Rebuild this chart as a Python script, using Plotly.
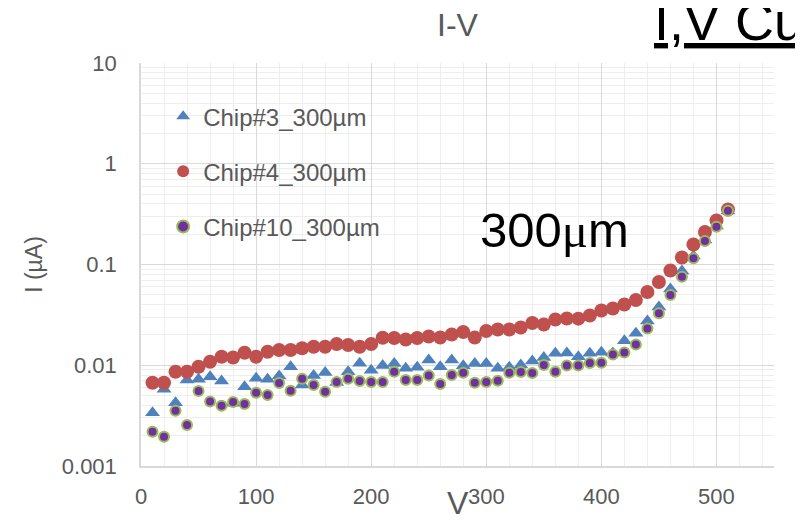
import plotly.graph_objects as go

voltage = [10, 20, 30, 40, 50, 60, 70, 80, 90, 100, 110, 120, 130, 140, 150, 160, 170, 180, 190, 200,
           210, 220, 230, 240, 250, 260, 270, 280, 290, 300, 310, 320, 330, 340, 350, 360, 370, 380, 390, 400,
           410, 420, 430, 440, 450, 460, 470, 480, 490, 500, 510]

chip3 = [0.00338, 0.00577, 0.00425, 0.00714, 0.00725, 0.0077, 0.00698, 0.00419, 0.00612, 0.00742,
         0.00725, 0.00782, 0.00967, 0.00637, 0.00791, 0.00847, 0.00674, 0.00863, 0.01046, 0.00891,
         0.00994, 0.01038, 0.00933, 0.00954, 0.01127, 0.00967, 0.01127, 0.00987, 0.01038, 0.01038,
         0.00933, 0.00954, 0.01006, 0.01102, 0.01194, 0.01314, 0.01323, 0.01216, 0.01314, 0.01348,
         0.01323, 0.01752, 0.02076, 0.0275, 0.0379, 0.0571, 0.0862, 0.1214, 0.175, 0.241, 0.340]

chip4 = [0.00671, 0.00671, 0.00863, 0.00863, 0.00967, 0.01084, 0.01216, 0.01194, 0.01329, 0.01216,
         0.01363, 0.01417, 0.01417, 0.01473, 0.01528, 0.01528, 0.01625, 0.0159, 0.01528, 0.01625,
         0.01873, 0.01865, 0.01801, 0.01865, 0.01929, 0.01886, 0.0202, 0.02138, 0.01886, 0.02188,
         0.02264, 0.02264, 0.0237, 0.02627, 0.02538, 0.02845, 0.02911, 0.0290, 0.03117, 0.03494,
         0.03659, 0.0401, 0.0444, 0.0533, 0.0670, 0.0872, 0.1173, 0.1579, 0.2102, 0.2733, 0.3515]

chip10 = [0.00219, 0.00195, 0.00354, 0.00255, 0.00555, 0.00437, 0.00396, 0.00432, 0.00412, 0.00534,
          0.00507, 0.00667, 0.00559, 0.00735, 0.00637, 0.00546, 0.00682, 0.00734, 0.00698, 0.00682,
          0.00682, 0.00863, 0.00714, 0.00714, 0.00791, 0.00652, 0.0080, 0.00844, 0.00671, 0.00682,
          0.00703, 0.00844, 0.00857, 0.00838, 0.01006, 0.00863, 0.00994, 0.00994, 0.01053, 0.0106,
          0.01278, 0.01339, 0.01607, 0.02317, 0.0328, 0.0498, 0.0757, 0.1152, 0.171, 0.237, 0.342]

series_names = ["Chip#3_300\u00b5m", "Chip#4_300\u00b5m", "Chip#10_300\u00b5m"]
x_tick_vals = [0, 100, 200, 300, 400, 500]
y_tick_vals = [0.001, 0.01, 0.1, 1, 10]
y_tick_text = ["0.001", "0.01", "0.1", "1", "10"]

GRAY = "#595959"
FONT = "Liberation Sans, Arial, sans-serif"

fig = go.Figure()
fig.add_trace(go.Scatter(
    x=voltage, y=chip3, mode="markers", name=series_names[0], legendgroup="a",
    marker=dict(symbol="triangle-up", size=13, color="#4f81bd", line=dict(width=0)),
))
fig.add_trace(go.Scatter(
    x=voltage, y=chip4, mode="markers", name=series_names[1], legendgroup="b",
    marker=dict(symbol="circle", size=14, color="#c0504d", line=dict(width=0)),
))
fig.add_trace(go.Scatter(
    x=voltage, y=chip10, mode="markers", name=series_names[2], legendgroup="c",
    marker=dict(symbol="circle", size=10, color="#7030a0", line=dict(width=2, color="#9bbb59")),
))

fig.update_layout(
    width=803, height=522,
    margin=dict(l=133, r=37, t=55, b=64),
    paper_bgcolor="white", plot_bgcolor="white",
    font=dict(family=FONT, color=GRAY),
    title=dict(text="I-V", x=0.5, xref="paper", xanchor="center", y=0.967, yref="container",
               yanchor="middle", font=dict(size=32, color=GRAY, family=FONT)),
    showlegend=True,
    legend=dict(x=0.035, y=0.923, xanchor="left", yanchor="top", bgcolor="rgba(0,0,0,0)",
                font=dict(size=24, color=GRAY, family=FONT), tracegroupgap=21,
                itemsizing="constant"),
    xaxis=dict(
        range=[0, 550], tickvals=x_tick_vals, showgrid=True, gridcolor="#d9d9d9", gridwidth=1.3,
        minor=dict(dtick=20, showgrid=True, gridcolor="#eeeeee", gridwidth=1, tick0=0),
        showline=True, linecolor="#d9d9d9", linewidth=1.5, zeroline=False, ticks="",
        tickfont=dict(size=22, color=GRAY, family=FONT), ticklabelstandoff=10,
        automargin=False,
    ),
    yaxis=dict(
        type="log", range=[-3, 1], tickvals=y_tick_vals, ticktext=y_tick_text,
        showgrid=True, gridcolor="#d9d9d9", gridwidth=1.3,
        minor=dict(dtick="D1", showgrid=True, gridcolor="#eeeeee", gridwidth=1),
        showline=True, linecolor="#d9d9d9", linewidth=1.5, zeroline=False, ticks="",
        tickfont=dict(size=22, color=GRAY, family=FONT), ticklabelstandoff=18,
        title=dict(text="I (\u00b5A)", font=dict(size=23, color=GRAY, family=FONT), standoff=13),
        automargin=False,
    ),
    annotations=[
        dict(text="V", x=0.5, y=-37 / 403, xref="paper", yref="paper",
             xanchor="center", yanchor="middle", showarrow=False,
             font=dict(size=32, color=GRAY, family=FONT)),
        dict(text="300<span style='font-family:Liberation Serif'>\u03bc</span>m", x=0.532, y=0.585,
             xref="paper", yref="paper", xanchor="left", yanchor="middle", showarrow=False,
             font=dict(size=49, color="black", family=FONT)),
        dict(text="<u>I,V Curve</u>", x=(652 - 141) / 633, y=1 + 10 / 403, xref="paper", yref="paper",
             xanchor="left", yanchor="bottom", showarrow=False,
             font=dict(size=54, color="black", family=FONT)),
    ],
)

fig.write_html("out.html")
